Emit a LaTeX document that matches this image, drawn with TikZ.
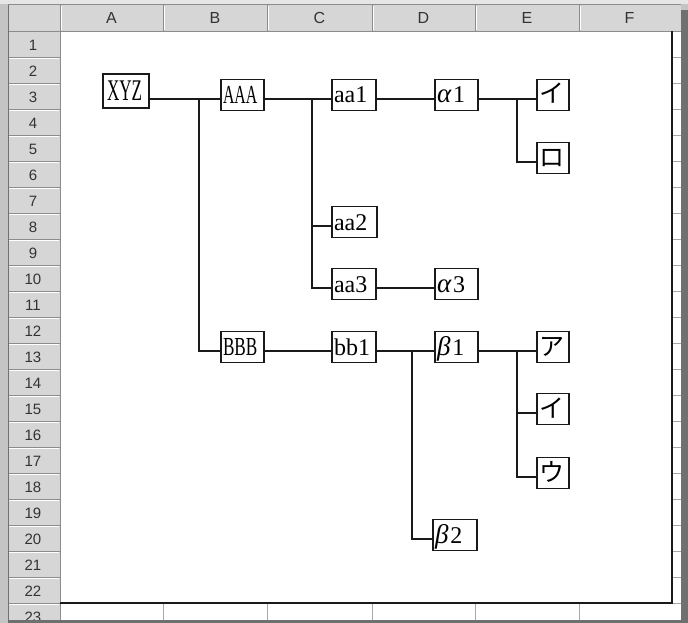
\documentclass[tikz,border=0pt]{standalone}
\usepackage{fontspec}
\usepackage{graphicx}
\setmainfont{Liberation Serif}
\newfontfamily\hdrfont{Liberation Sans}
\newfontfamily\jpfont{Noto Sans CJK JP}
\definecolor{framegray}{HTML}{C4C4C4}
\definecolor{topstrip}{HTML}{E6E6E6}
\definecolor{hdrgray}{HTML}{D6D6D6}
\definecolor{hdrline}{HTML}{8C8C8C}
\definecolor{darkbar}{HTML}{707070}
\definecolor{gridgray}{HTML}{A8A8A8}
\definecolor{inkcol}{HTML}{1A1A1A}
\definecolor{hdrtext}{HTML}{333333}
\newcommand\grk[1]{{\fontsize{27}{27}\selectfont\itshape #1}}
\tikzset{
  tbox/.style={draw=inkcol, line width=1.3pt, fill=white, minimum height=31pt,
    inner xsep=2pt, inner ysep=0pt, text width=#1, align=left,
    text height=16pt, text depth=0pt, font=\fontsize{24}{26}\selectfont},
  kbox/.style={tbox=27pt, inner xsep=2.5pt, font=\jpfont\fontsize{25}{27}\selectfont},
  conn/.style={draw=inkcol, line width=1.3pt},
  rowlab/.style={font=\hdrfont\fontsize{15}{16}\selectfont, text=hdrtext, inner sep=0pt},
  collab/.style={font=\hdrfont\fontsize{16}{17}\selectfont, text=hdrtext, inner sep=0pt},
  hline/.style={draw=hdrline, line width=0.8pt},
  hlite/.style={draw=white, line width=0.8pt},
  gridl/.style={draw=gridgray, line width=0.8pt},
}
\begin{document}
\begin{tikzpicture}[x=1pt,y=-1pt]
\useasboundingbox (0,0) rectangle (688,623);
% window frame
\fill[framegray] (0,0) rectangle (688,623);
\fill[topstrip] (0,0) rectangle (688,4);
% sheet cells
\fill[white] (60,31) rectangle (681,620);
% header row and row header
\fill[hdrgray] (8,5) rectangle (681,31);
\fill[hdrgray] (8,31) rectangle (60,620);
\draw[hline] (8,4.5) -- (681,4.5);
\foreach \x in {60,163,267,372,475,579} {
  \draw[hline] (\x,5) -- (\x,31);
  \draw[hlite] (\x+1,6) -- (\x+1,30);
}
\draw[hline] (8,31) -- (681,31);
\foreach \k in {1,...,22} {
  \draw[hline] (8,31+26*\k) -- (60,31+26*\k);
  \draw[hlite] (9,32+26*\k) -- (59,32+26*\k);
}
\draw[hline] (60,31) -- (60,620);
% column letters
\foreach \l/\x in {A/111.5,B/215,C/319.5,D/423.5,E/527,F/629.5}
  \node[collab] (col\l) at (\x,18) {\l};
% row numbers
\begin{scope}
\clip (8,31) rectangle (60,620);
\foreach \k in {1,...,23}
  \node[rowlab] (row\k) at (33,45+26*\k-26) {\k};
\end{scope}
% grid lines outside the drawing object
\foreach \x in {163,267,372,475,579}
  \draw[gridl] (\x,603) -- (\x,620);
\foreach \k in {1,...,22}
  \draw[gridl] (672,31+26*\k) -- (681,31+26*\k);
% drawing object border
\draw[draw=inkcol, line width=1.5pt] (672,31) -- (672,603) -- (60,603);
% window edges
\draw[draw=darkbar, line width=1pt] (8.5,5) -- (8.5,620);
\fill[darkbar] (8,620) rectangle (688,623);
\fill[darkbar] (681,10) rectangle (688,623);

% boxes
\node[tbox=38pt, inner xsep=4pt, line width=2.6pt, minimum height=34pt, text height=20pt,
      font=\fontsize{30}{32}\selectfont] (xyz) at (126,91) {\scalebox{0.57}[1]{XYZ}};
\node[tbox=39pt, font=\fontsize{26}{28}\selectfont, text height=17pt] (aaa) at (242.5,95) {\scalebox{0.61}[1]{AAA}};
\node[tbox=40pt] (aa1) at (354,95) {aa1};
\node[tbox=39pt] (al1) at (456.5,95) {\grk{α}\hspace{2pt}1};
\node[kbox] (i1) at (553,95) {イ};
\node[kbox] (ro) at (553,158) {ロ};
\node[tbox=41pt] (aa2) at (354.5,222) {aa2};
\node[tbox=40pt] (aa3) at (354,284) {aa3};
\node[tbox=39pt] (al3) at (456.5,284) {\grk{α}\hspace{2pt}3};
\node[tbox=39pt, font=\fontsize{26}{28}\selectfont, text height=17pt] (bbb) at (242.5,347) {\scalebox{0.66}[1]{BBB}};
\node[tbox=40pt] (bb1) at (354,347) {bb1};
\node[tbox=39pt] (be1) at (456.5,347) {\grk{β}\hspace{2pt}1};
\node[kbox] (a2) at (553,347) {ア};
\node[kbox] (i2) at (553,409) {イ};
\node[kbox] (u) at (553,473) {ウ};
\node[tbox=40pt] (be2) at (455,535) {\grk{β}\hspace{2pt}2};

% connectors
\draw[conn] ([yshift=-8pt]xyz.east) -- ([yshift=-4pt]aaa.west);
\coordinate (j1) at (199,99);
\draw[conn] (j1) |- ([yshift=-4pt]bbb.west);
\draw[conn] ([yshift=-4pt]aaa.east) -- ([yshift=-4pt]aa1.west);
\coordinate (j2) at (312,99);
\draw[conn] (j2) |- ([yshift=-4pt]aa2.west);
\draw[conn] (j2) |- ([yshift=-4pt]aa3.west);
\draw[conn] ([yshift=-4pt]aa1.east) -- ([yshift=-4pt]al1.west);
\draw[conn] ([yshift=-4pt]al1.east) -- ([yshift=-4pt]i1.west);
\coordinate (j3) at (517,99);
\draw[conn] (j3) |- ([yshift=-4pt]ro.west);
\draw[conn] ([yshift=-4pt]aa3.east) -- ([yshift=-4pt]al3.west);
\draw[conn] ([yshift=-4pt]bbb.east) -- ([yshift=-4pt]bb1.west);
\draw[conn] ([yshift=-4pt]bb1.east) -- ([yshift=-4pt]be1.west);
\draw[conn] ([yshift=-4pt]be1.east) -- ([yshift=-4pt]a2.west);
\coordinate (j4) at (412,351);
\draw[conn] (j4) |- ([yshift=-4pt]be2.west);
\coordinate (j5) at (517,351);
\draw[conn] (j5) |- ([yshift=-4pt]i2.west);
\draw[conn] (j5) |- ([yshift=-4pt]u.west);
\end{tikzpicture}
\end{document}
